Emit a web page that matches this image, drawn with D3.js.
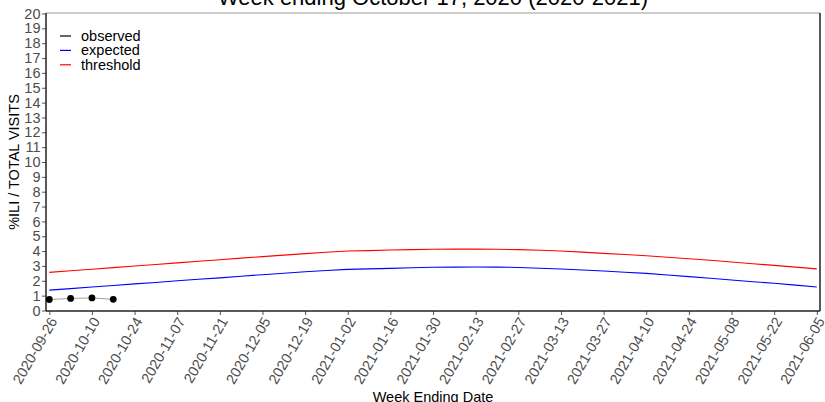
<!DOCTYPE html>
<html><head><meta charset="utf-8">
<script src="https://cdn.jsdelivr.net/npm/d3@7"></script>
<style>
body{margin:0;background:#fff;}
svg{display:block;font-family:"Liberation Sans",Arial,Helvetica,sans-serif;}
</style></head>
<body>
<svg id="chart" width="825" height="402"></svg>
<script>
const titleText = "Week ending October 17, 2020 (2020-2021)";
const weekStart = "2020-09-26";
const nWeeks = 37;
const expected = [1.37,1.47,1.58,1.68,1.79,1.89,2.00,2.10,2.20,2.31,2.41,2.51,2.61,2.69,2.77,2.80,2.84,2.88,2.91,2.92,2.93,2.92,2.90,2.85,2.79,2.73,2.66,2.58,2.50,2.39,2.28,2.17,2.05,1.94,1.83,1.71,1.58];
const threshold = [2.57,2.68,2.78,2.89,3.00,3.10,3.21,3.32,3.42,3.53,3.63,3.73,3.83,3.92,4.01,4.03,4.07,4.10,4.12,4.13,4.13,4.12,4.10,4.06,4.01,3.93,3.85,3.77,3.69,3.59,3.49,3.38,3.27,3.15,3.04,2.92,2.80];
const observed = [0.74,0.81,0.85,0.75];
const yTicks = d3.range(0,21);
const legendLabels = ["observed","expected","threshold"];
const legendColors = ["#000000","#0000ff","#ff0000"];

const parse = d3.utcParse("%Y-%m-%d");
const fmt = d3.utcFormat("%Y-%m-%d");
const t0 = parse(weekStart);
const dates = d3.range(nWeeks).map(i => d3.utcDay.offset(t0, i*7));
const xTicks = dates.filter((d,i) => i % 2 === 0);

const svg = d3.select("#chart");
const L = 46, R = 820, T = 13, B = 311;
const x = d3.scaleUtc().domain([dates[0], dates[nWeeks-1]]).range([49.3, 816.8]);
const y = d3.scaleLinear().domain([0,20]).range([310.5, 13.5]);

// title
svg.append("text").attr("x", (L+R)/2).attr("y", 5).attr("text-anchor","middle")
  .attr("font-size", 22).attr("fill","#000").text(titleText);

// axes
const gx = svg.append("g").attr("transform", `translate(0,${B})`)
  .call(d3.axisBottom(x).tickValues(xTicks).tickFormat(fmt).tickSize(4).tickSizeOuter(0));
gx.select(".domain").remove();
gx.selectAll(".tick line").attr("stroke","#555");
gx.selectAll(".tick text").attr("font-size",14.5).attr("fill","#4d4d4d")
  .attr("y",0).attr("dy",0).attr("text-anchor","end")
  .attr("transform","translate(8,10) rotate(-60)");

const gy = svg.append("g").attr("transform", `translate(${L},0)`)
  .call(d3.axisLeft(y).tickValues(yTicks).tickFormat(d3.format("d")).tickSize(4).tickPadding(1.5).tickSizeOuter(0));
gy.select(".domain").remove();
gy.selectAll(".tick line").attr("stroke","#555");
gy.selectAll(".tick text").attr("font-size",14.5).attr("fill","#4d4d4d").attr("font-family","Liberation Sans, Arial, sans-serif");

// frame
svg.append("line").attr("x1",L).attr("x2",R).attr("y1",T).attr("y2",T).attr("stroke","#999").attr("stroke-width",1);
svg.append("line").attr("x1",L).attr("x2",L).attr("y1",T).attr("y2",B).attr("stroke","#222").attr("stroke-width",1.5);
svg.append("line").attr("x1",R).attr("x2",R).attr("y1",T).attr("y2",B).attr("stroke","#222").attr("stroke-width",1.5);
svg.append("line").attr("x1",L).attr("x2",R).attr("y1",B).attr("y2",B).attr("stroke","#222").attr("stroke-width",1.5);

// lines
const line = d3.line().x((d,i)=>x(dates[i])).y(d=>y(d));
svg.append("path").datum(threshold).attr("d",line).attr("fill","none").attr("stroke","#ff0000").attr("stroke-width",1.1);
svg.append("path").datum(expected).attr("d",line).attr("fill","none").attr("stroke","#0000ff").attr("stroke-width",1.1);
svg.append("path").datum(observed).attr("d",line).attr("fill","none").attr("stroke","#888").attr("stroke-width",0.8);
svg.selectAll("circle.obs").data(observed).enter().append("circle").attr("class","obs")
  .attr("cx",(d,i)=>x(dates[i])).attr("cy",d=>y(d)).attr("r",3.4).attr("fill","#000");

// axis titles
svg.append("text").attr("x",(L+R)/2).attr("y",402).attr("text-anchor","middle")
  .attr("font-size",14.5).attr("fill","#000").text("Week Ending Date");
svg.append("text").attr("transform",`translate(19,${(T+B)/2}) rotate(-90)`).attr("text-anchor","middle")
  .attr("font-size",14.5).attr("fill","#000").text("%ILI / TOTAL VISITS");

// legend
const lg = svg.append("g");
legendLabels.forEach((lab,i)=>{
  const yy = 36 + i*14.4;
  lg.append("line").attr("x1",60).attr("x2",71).attr("y1",yy).attr("y2",yy).attr("stroke",legendColors[i]).attr("stroke-width",1.2);
  lg.append("text").attr("x",81).attr("y",yy+5).attr("font-size",14.5).attr("fill","#000").text(lab);
});
</script>
</body></html>
